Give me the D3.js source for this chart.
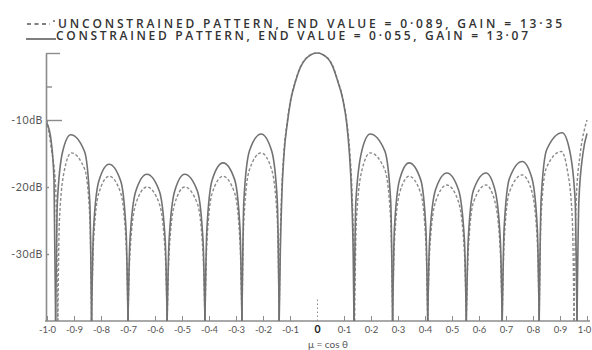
<!DOCTYPE html>
<html>
<head>
<meta charset="utf-8">
<script src="https://cdn.jsdelivr.net/npm/d3@7"></script>
<style>
  body { margin: 0; background: #fff; }
  svg { display: block; font-family: Lato, "DejaVu Sans", sans-serif; }
</style>
</head>
<body>
<div id="app"></div>
<script>
// legend texts
const legendLabels = [
  "UNCONSTRAINED PATTERN, END VALUE = 0·089, GAIN = 13·35",
  "CONSTRAINED PATTERN, END VALUE = 0·055, GAIN = 13·07",
];

// axis ticks
const xTickValues = [-1, -0.9, -0.8, -0.7, -0.6, -0.5, -0.4, -0.3, -0.2, -0.1, 0,
  0.1, 0.2, 0.3, 0.4, 0.5, 0.6, 0.7, 0.8, 0.9, 1];
const xTickLabels = ["-1·0", "-0·9", "-0·8", "-0·7", "-0·6", "-0·5", "-0·4", "-0·3", "-0·2", "-0·1", "0",
  "0·1", "0·2", "0·3", "0·4", "0·5", "0·6", "0·7", "0·8", "0·9", "1·0"];
const yTickValues = [0, -5, -10, -20, -30];
const yTickLabels = ["", "", "-10dB", "-20dB", "-30dB"];
const xTitle = "μ = cos θ";

// pattern, one array of [mu, dB] per lobe (nulls clipped at -40 dB)
const constrainedLobes = [
  [[-1.0, -10.5], [-0.985, -13], [-0.974, -19], [-0.968, -40]],
  [[-0.968, -40], [-0.9615, -22.2], [-0.942, -14.7], [-0.912, -12.2], [-0.861, -14.7], [-0.8415, -22.2], [-0.835, -40]],
  [[-0.835, -40], [-0.828, -26.6], [-0.808, -19.1], [-0.77, -16.6], [-0.727, -19.1], [-0.707, -26.6], [-0.7, -40]],
  [[-0.7, -40], [-0.693, -28.1], [-0.671, -20.6], [-0.63, -18.1], [-0.584, -20.6], [-0.562, -28.1], [-0.555, -40]],
  [[-0.555, -40], [-0.548, -28.1], [-0.527, -20.6], [-0.49, -18.1], [-0.443, -20.6], [-0.422, -28.1], [-0.415, -40]],
  [[-0.415, -40], [-0.408, -26.4], [-0.388, -18.9], [-0.348, -16.4], [-0.305, -18.9], [-0.285, -26.4], [-0.278, -40]],
  [[-0.278, -40], [-0.271, -22.1], [-0.25, -14.6], [-0.207, -12.1], [-0.168, -14.6], [-0.147, -22.1], [-0.14, -40]],
  [[-0.14, -40], [-0.136, -30], [-0.13, -21], [-0.122, -15], [-0.11, -10.5], [-0.097, -7], [-0.08, -4.3],
   [-0.062, -2.2], [-0.042, -0.9], [0, 0], [0.042, -0.9], [0.058, -2], [0.075, -4], [0.096, -7],
   [0.11, -10.5], [0.12, -15], [0.128, -21], [0.134, -30], [0.137, -40]],
  [[0.137, -40], [0.144, -22.1], [0.166, -14.6], [0.197, -12.1], [0.251, -14.6], [0.273, -22.1], [0.28, -40]],
  [[0.28, -40], [0.2865, -26.4], [0.306, -18.9], [0.341, -16.4], [0.384, -18.9], [0.4035, -26.4], [0.41, -40]],
  [[0.41, -40], [0.417, -27.9], [0.439, -20.4], [0.481, -17.9], [0.524, -20.4], [0.546, -27.9], [0.553, -40]],
  [[0.553, -40], [0.56, -27.9], [0.58, -20.4], [0.626, -17.9], [0.659, -20.4], [0.679, -27.9], [0.686, -40]],
  [[0.686, -40], [0.693, -26.2], [0.713, -18.7], [0.76, -16.2], [0.796, -18.7], [0.816, -26.2], [0.823, -40]],
  [[0.823, -40], [0.83, -21.9], [0.851, -14.4], [0.908, -11.9], [0.935, -14.4], [0.956, -21.9], [0.963, -40]],
  [[0.963, -40], [0.97, -22], [0.985, -15], [1.0, -12]],
];

const unconstrainedLobes = [
  [[-1.0, -10], [-0.985, -14], [-0.968, -20], [-0.96, -40]],
  [[-0.96, -40], [-0.954, -24.9], [-0.935, -17.4], [-0.91, -14.9], [-0.86, -17.4], [-0.841, -24.9], [-0.835, -40]],
  [[-0.835, -40], [-0.828, -28.4], [-0.808, -20.9], [-0.77, -18.4], [-0.727, -20.9], [-0.707, -28.4], [-0.7, -40]],
  [[-0.7, -40], [-0.693, -30], [-0.671, -22.5], [-0.63, -20], [-0.584, -22.5], [-0.562, -30], [-0.555, -40]],
  [[-0.555, -40], [-0.548, -30], [-0.527, -22.5], [-0.49, -20], [-0.443, -22.5], [-0.422, -30], [-0.415, -40]],
  [[-0.415, -40], [-0.408, -28.4], [-0.388, -20.9], [-0.348, -18.4], [-0.305, -20.9], [-0.285, -28.4], [-0.278, -40]],
  [[-0.278, -40], [-0.271, -24.9], [-0.25, -17.4], [-0.207, -14.9], [-0.168, -17.4], [-0.147, -24.9], [-0.14, -40]],
  [[-0.14, -40], [-0.137, -30], [-0.131, -21], [-0.123, -15], [-0.111, -10.5], [-0.098, -7], [-0.081, -4.3],
   [-0.063, -2.2], [-0.043, -0.9], [0, 0], [0.043, -0.9], [0.059, -2], [0.076, -4], [0.097, -7],
   [0.111, -10.5], [0.122, -15], [0.13, -21], [0.136, -30], [0.139, -40]],
  [[0.139, -40], [0.146, -24.9], [0.167, -17.4], [0.197, -14.9], [0.251, -17.4], [0.273, -24.9], [0.28, -40]],
  [[0.28, -40], [0.2865, -28.4], [0.306, -20.9], [0.341, -18.4], [0.384, -20.9], [0.4035, -28.4], [0.41, -40]],
  [[0.41, -40], [0.417, -29.7], [0.439, -22.2], [0.481, -19.7], [0.524, -22.2], [0.546, -29.7], [0.553, -40]],
  [[0.553, -40], [0.56, -29.7], [0.58, -22.2], [0.626, -19.7], [0.659, -22.2], [0.679, -29.7], [0.686, -40]],
  [[0.686, -40], [0.693, -28.2], [0.713, -20.7], [0.76, -18.2], [0.796, -20.7], [0.816, -28.2], [0.823, -40]],
  [[0.823, -40], [0.8295, -24.7], [0.849, -17.2], [0.905, -14.7], [0.926, -17.2], [0.9455, -24.7], [0.952, -40]],
  [[0.952, -40], [0.96, -22], [0.975, -15], [0.99, -11.5], [1.0, -10]],
];

const width = 592;
const height = 350;

const svg = d3
  .select("#app")
  .append("svg")
  .attr("width", width)
  .attr("height", height)
  .attr("viewBox", [0, 0, width, height]);

const x = d3.scaleLinear([-1, 1], [47, 587]);
const y = d3.scaleLinear([-40, 0], [321, 53]);

const axisColor = "#8c8c8c";
const textColor = "#555";

// y axis, ticks point into the plot and labels sit on the left
const yTickLen = (d) => (d === 0 ? 14 : d === -10 ? 16 : d === -5 ? 6 : 3);
const yAxis = svg
  .append("g")
  .attr("transform", `translate(${x(-1) - 1},0)`)
  .call(
    d3
      .axisLeft(y)
      .tickValues(yTickValues)
      .tickSizeOuter(0)
      .tickSizeInner(-10)
      .tickPadding(3)
      .tickFormat((d, i) => yTickLabels[i])
  );
yAxis.select(".domain").attr("stroke", axisColor).attr("stroke-width", 1.6);
yAxis.selectAll(".tick line").attr("x2", yTickLen).attr("stroke", axisColor).attr("stroke-width", 1.4);
yAxis
  .selectAll(".tick text")
  .attr("fill", textColor)
  .attr("font-size", 10.5)
  .attr("letter-spacing", 0.6)
  .attr("font-family", "Lato, sans-serif");

// x axis baseline
svg
  .append("line")
  .attr("x1", x(-1) - 2)
  .attr("x2", x(1) + 3)
  .attr("y1", y(-40))
  .attr("y2", y(-40))
  .attr("stroke", axisColor)
  .attr("stroke-width", 1.6);

const xAxis = svg
  .append("g")
  .attr("transform", `translate(0,${y(-40)})`)
  .call(
    d3
      .axisBottom(x)
      .tickValues(xTickValues)
      .tickSizeOuter(0)
      .tickSizeInner(-5)
      .tickPadding(5)
      .tickFormat((d, i) => xTickLabels[i])
  );
xAxis.select(".domain").remove();
xAxis.selectAll(".tick line").attr("stroke", axisColor).attr("stroke-width", 1);
xAxis
  .selectAll(".tick")
  .filter((d) => d === 0)
  .select("line")
  .attr("y2", -22)
  .attr("stroke-dasharray", "1.5,2.5");
xAxis
  .selectAll(".tick text")
  .attr("fill", textColor)
  .attr("font-size", 9.5)
  .attr("font-family", "Lato, sans-serif");
xAxis
  .selectAll(".tick")
  .filter((d) => d === 1)
  .select("text")
  .attr("dx", -3);
xAxis
  .selectAll(".tick")
  .filter((d) => d === 0)
  .select("text")
  .attr("fill", "#222")
  .attr("font-weight", "bold")
  .attr("font-size", 10.5);

svg
  .append("text")
  .attr("x", 328)
  .attr("y", 348)
  .attr("text-anchor", "middle")
  .attr("fill", textColor)
  .attr("font-size", 10)
  .text(xTitle);

// pattern curves
const line = d3
  .line()
  .x((d) => x(d[0]))
  .y((d) => y(d[1]))
  .curve(d3.curveMonotoneX);

svg
  .append("g")
  .selectAll("path")
  .data(unconstrainedLobes)
  .join("path")
  .attr("d", line)
  .attr("fill", "none")
  .attr("stroke", "#8a8a8a")
  .attr("stroke-width", 1.4)
  .attr("stroke-dasharray", "3,2");

svg
  .append("g")
  .selectAll("path")
  .data(constrainedLobes)
  .join("path")
  .attr("d", line)
  .attr("fill", "none")
  .attr("stroke", "#727272")
  .attr("stroke-width", 1.6);

// legend
const legend = svg.append("g");
legend
  .append("line")
  .attr("x1", 27)
  .attr("x2", 50)
  .attr("y1", 24)
  .attr("y2", 24)
  .attr("stroke", "#555")
  .attr("stroke-width", 1.5)
  .attr("stroke-dasharray", "4,3.5");
legend
  .append("circle")
  .attr("cx", 54)
  .attr("cy", 21)
  .attr("r", 0.9)
  .attr("fill", "#555");
legend
  .append("line")
  .attr("x1", 26)
  .attr("x2", 56)
  .attr("y1", 39)
  .attr("y2", 39)
  .attr("stroke", "#555")
  .attr("stroke-width", 1.5);

legend
  .selectAll("text")
  .data(legendLabels)
  .join("text")
  .attr("x", (d, i) => (i === 0 ? 58 : 56))
  .attr("y", (d, i) => (i === 0 ? 27.5 : 40))
  .attr("textLength", (d, i) => (i === 0 ? 504 : 472))
  .attr("lengthAdjust", "spacing")
  .attr("fill", "#333")
  .attr("font-family", "'Open Sans', Lato, sans-serif")
  .attr("font-size", 12)
  .attr("font-weight", 600)
  .text((d) => d);
</script>
</body>
</html>
